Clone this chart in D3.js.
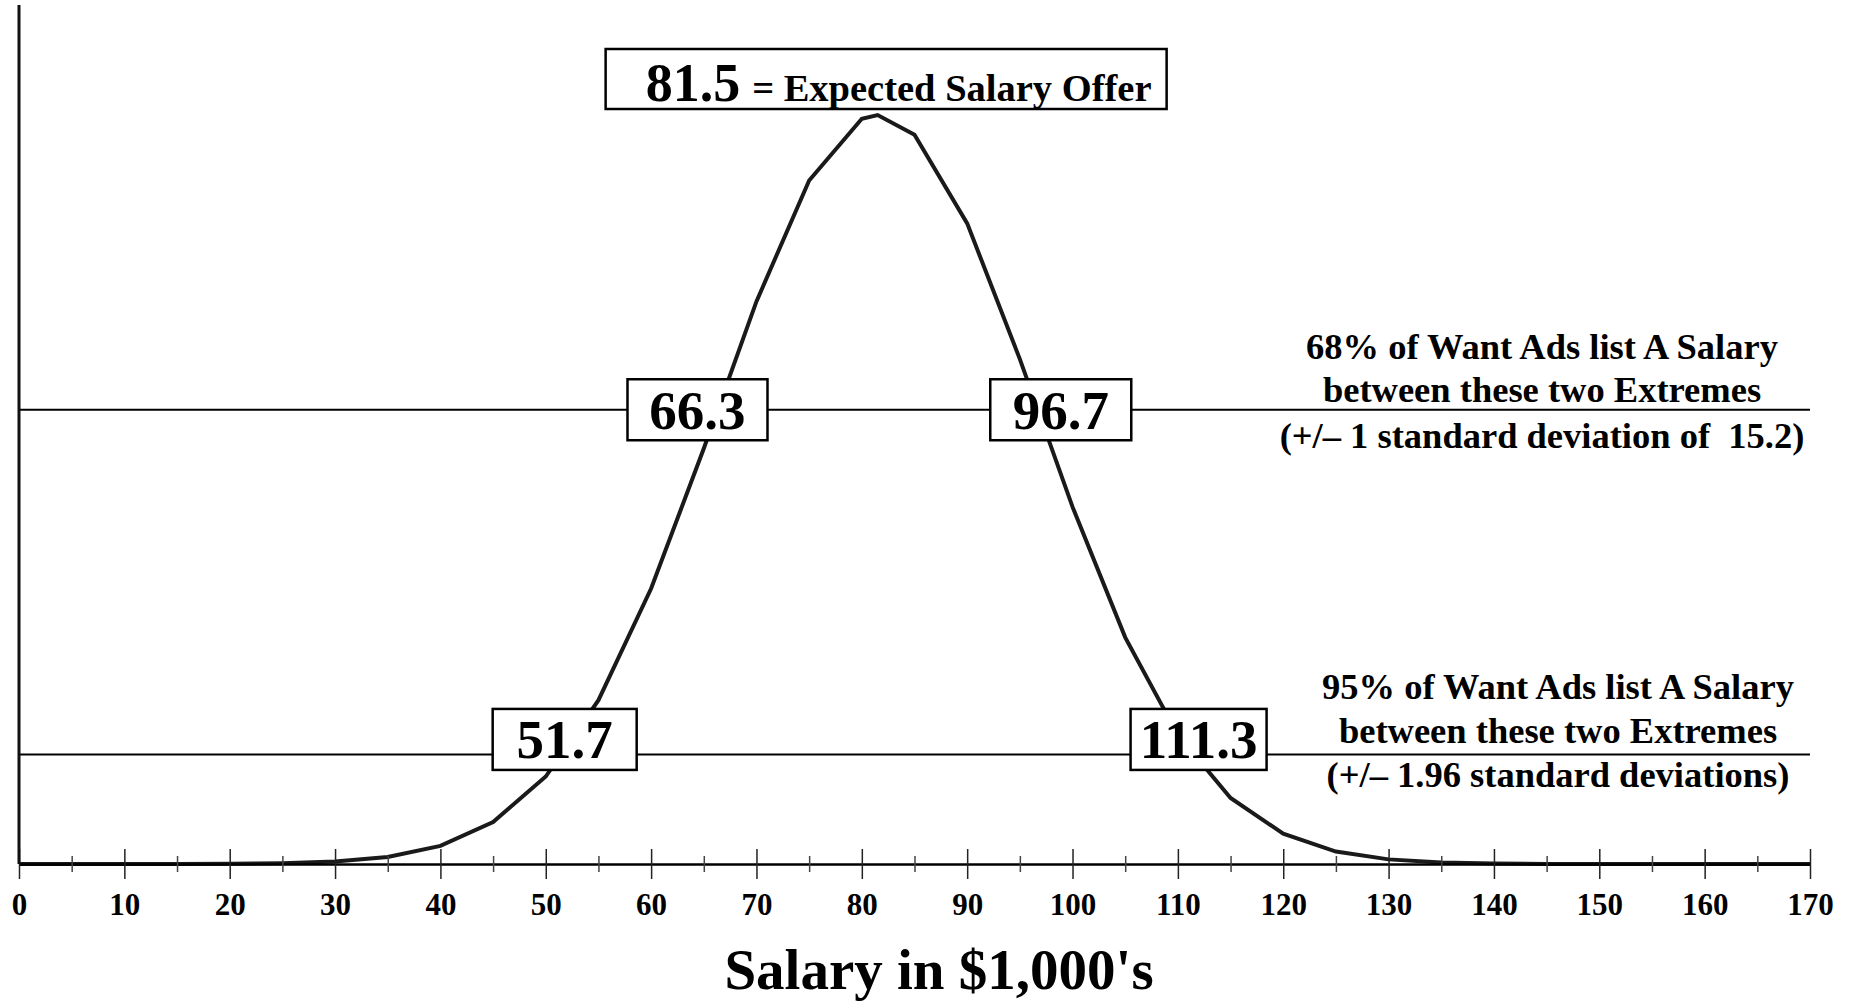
<!DOCTYPE html>
<html>
<head>
<meta charset="utf-8">
<script src="https://cdn.jsdelivr.net/npm/d3@7"></script>
<style>
    body { margin: 0; background: #fff; }
    text { font-family: "Liberation Serif", serif; font-weight: bold; fill: #000; }
</style>
</head>
<body>
<div id="chart"></div>
<script>
(function() {

    var w = 1858;
    var h = 1005;

    // salary (in $1,000's) where the curve was sampled, and its height (density, % per $1,000)
    var salaryPoints = [0, 5, 10, 15, 20, 25, 30, 35, 40, 45, 50, 55, 60, 65, 70, 75, 80, 81.5,
        85, 90, 95, 100, 105, 110, 115, 120, 125, 130, 135, 140, 145, 150, 155, 160, 165, 170];
    var densityPct = [0, 0, 0, 0.0002, 0.0007, 0.0026, 0.0085, 0.0244, 0.0633, 0.147, 0.3066, 0.5741,
        0.9655, 1.4561, 1.9716, 2.3956, 2.6121, 2.625,
        2.5562, 2.2452, 1.7695, 1.2516, 0.7943, 0.4526, 0.2315, 0.1063, 0.0437, 0.0162, 0.0054,
        0.0016, 0.0004, 0.0001, 0, 0, 0, 0];

    var majorTicks = [0, 10, 20, 30, 40, 50, 60, 70, 80, 90, 100, 110, 120, 130, 140, 150, 160, 170];
    var minorTicks = [5, 15, 25, 35, 45, 55, 65, 75, 85, 95, 105, 115, 125, 135, 145, 155, 165];

    var meanSalary = 81.5;
    var meanNote = "= Expected Salary Offer";

    var bandLevels = [1.592, 0.384];      // curve height at +/- 1 and +/- 1.96 sd
    var bandLows = [66.3, 51.7];
    var bandHighs = [96.7, 111.3];
    var bandNotes = [
        ["68% of Want Ads list A Salary", "between these two Extremes", "(+/\u2013 1 standard deviation of  15.2)"],
        ["95% of Want Ads list A Salary", "between these two Extremes", "(+/\u2013 1.96 standard deviations)"]
    ];

    var axisTitle = "Salary in $1,000's";

    // layout
    var x = d3.scaleLinear().domain([0, 170]).range([19, 1810]);
    var y = d3.scaleLinear().domain([0, 3]).range([864, 8]);

    var svg = d3.select("#chart")
        .append("svg")
        .attr("width", w)
        .attr("height", h);

    svg.append("rect")
        .attr("width", w)
        .attr("height", h)
        .attr("fill", "#fff");

    // band lines
    svg.selectAll("line.band")
        .data(bandLevels)
        .enter()
        .append("line")
        .attr("class", "band")
        .attr("x1", x(0))
        .attr("x2", x(170))
        .attr("y1", function(d) { return y(d); })
        .attr("y2", function(d) { return y(d); })
        .attr("stroke", "#000")
        .attr("stroke-width", 2);

    // curve
    var line = d3.line()
        .x(function(d, i) { return x(salaryPoints[i]); })
        .y(function(d) { return y(d); });

    svg.append("path")
        .datum(densityPct)
        .attr("d", line)
        .attr("fill", "none")
        .attr("stroke", "#1a1a1a")
        .attr("stroke-width", 4)
        .attr("stroke-linejoin", "miter");

    // x axis, major + minor ticks drawn across the baseline
    var majorAxis = d3.axisBottom(x)
        .tickValues(majorTicks)
        .tickSize(15)
        .tickSizeOuter(0)
        .tickPadding(14)
        .tickFormat(d3.format("d"));

    var gx = svg.append("g")
        .attr("transform", "translate(0," + y(0) + ")")
        .call(majorAxis);

    gx.select(".domain").attr("stroke", "#000").attr("stroke-width", 2.5);
    gx.selectAll(".tick line").attr("y1", -15).attr("stroke", "#222").attr("stroke-width", 1.5);
    gx.selectAll(".tick text")
        .attr("font-family", "Liberation Serif")
        .attr("font-weight", "bold")
        .attr("font-size", 31)
        .attr("fill", "#000");

    var minorAxis = d3.axisBottom(x)
        .tickValues(minorTicks)
        .tickSize(8)
        .tickSizeOuter(0)
        .tickFormat("");

    var gm = svg.append("g")
        .attr("transform", "translate(0," + y(0) + ")")
        .call(minorAxis);

    gm.select(".domain").remove();
    gm.selectAll(".tick line").attr("y1", -8).attr("stroke", "#444").attr("stroke-width", 1.5);

    // y axis line only
    svg.append("line")
        .attr("x1", x(0))
        .attr("x2", x(0))
        .attr("y1", 5)
        .attr("y2", y(0))
        .attr("stroke", "#111")
        .attr("stroke-width", 3);

    // value boxes sitting on the band lines
    var boxes = [
        { v: bandLows[0], level: bandLevels[0], dx: -20, dy: 0, bw: 140 },
        { v: bandHighs[0], level: bandLevels[0], dx: 23, dy: 0, bw: 141 },
        { v: bandLows[1], level: bandLevels[1], dx: 1, dy: -15, bw: 144 },
        { v: bandHighs[1], level: bandLevels[1], dx: 7, dy: -15, bw: 136 }
    ];
    var bh = 61;

    var bg = svg.selectAll("g.vbox")
        .data(boxes)
        .enter()
        .append("g")
        .attr("class", "vbox")
        .attr("transform", function(d) {
            return "translate(" + (x(d.v) + d.dx) + "," + (y(d.level) + d.dy) + ")";
        });

    bg.append("rect")
        .attr("x", function(d) { return -d.bw / 2; })
        .attr("y", -bh / 2)
        .attr("width", function(d) { return d.bw; })
        .attr("height", bh)
        .attr("fill", "#fff")
        .attr("stroke", "#000")
        .attr("stroke-width", 2.5);

    bg.append("text")
        .attr("text-anchor", "middle")
        .attr("y", 19)
        .attr("font-size", 55)
        .text(function(d) { return d.v.toFixed(1); });

    // mean box above the peak
    var mx = x(meanSalary) - 272;
    svg.append("rect")
        .attr("x", mx)
        .attr("y", 49)
        .attr("width", 561)
        .attr("height", 60)
        .attr("fill", "#fff")
        .attr("stroke", "#000")
        .attr("stroke-width", 2.5);

    var mt = svg.append("text")
        .attr("x", mx + 40)
        .attr("y", 101);
    mt.append("tspan")
        .attr("font-size", 54)
        .text(meanSalary.toFixed(1));
    mt.append("tspan")
        .attr("font-size", 38.5)
        .attr("dx", 12)
        .text(meanNote);

    // notes on the right
    var noteX = [1542, 1558];
    var noteDy = [[-51, -8, 38], [-55, -11, 33]];
    bandNotes.forEach(function(lines, b) {
        lines.forEach(function(s, i) {
            svg.append("text")
                .attr("x", noteX[b])
                .attr("y", y(bandLevels[b]) + noteDy[b][i])
                .attr("text-anchor", "middle")
                .attr("font-size", 36.5)
                .style("white-space", "pre")
                .text(s);
        });
    });

    // axis title
    svg.append("text")
        .attr("x", 939)
        .attr("y", 989)
        .attr("text-anchor", "middle")
        .attr("font-size", 57)
        .text(axisTitle);

})();
</script>
</body>
</html>
